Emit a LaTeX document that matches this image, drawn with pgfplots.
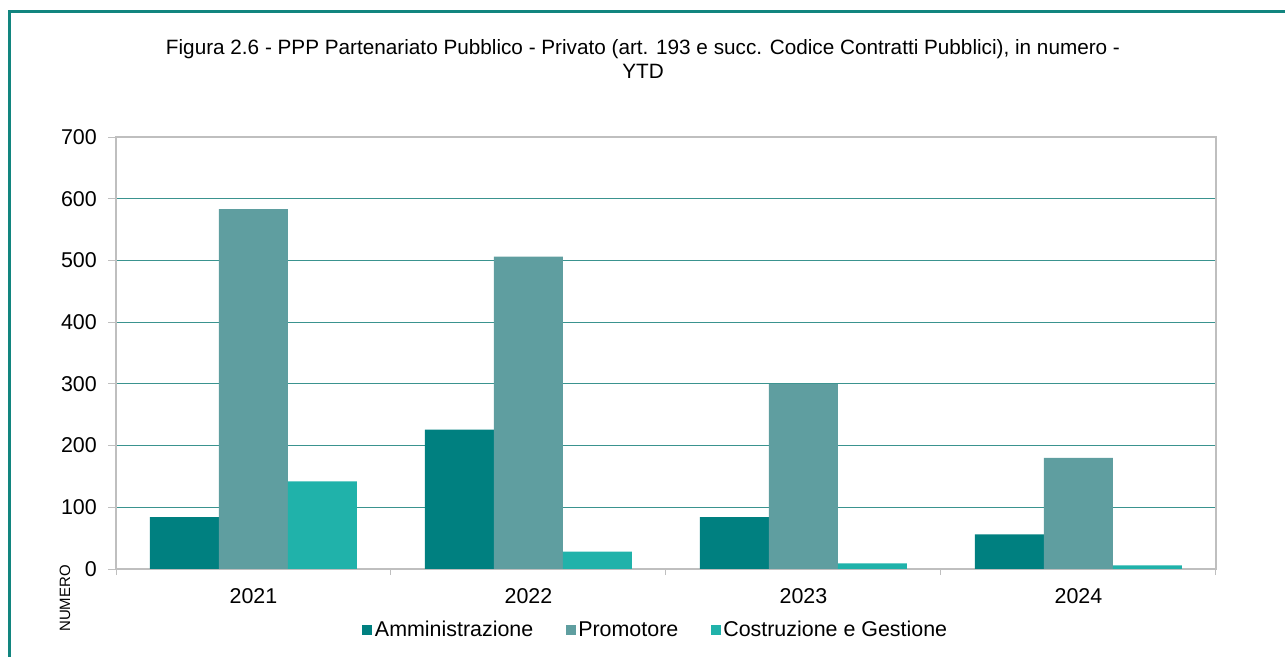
\documentclass[border=0pt]{standalone}
\usepackage{pgfplots}
\pgfplotsset{compat=1.18}
\usepackage{fontspec}
\setmainfont{Liberation Sans}

\definecolor{amm}{HTML}{008080}
\definecolor{prom}{HTML}{5F9EA0}
\definecolor{cost}{HTML}{20B2AA}
\definecolor{frame}{HTML}{12857F}
\definecolor{gridc}{HTML}{3A938F}
\definecolor{axgray}{HTML}{BFBFBF}

\begin{document}
\begin{tikzpicture}
\useasboundingbox (0bp,0bp) rectangle (1285bp,657bp);
% cornice verde (lato destro e basso fuori immagine)
\draw[frame, line width=3bp] (9bp,0bp) -- (9bp,645bp) -- (1290bp,645bp);
\node[align=center, font=\fontsize{20.8}{24}\selectfont, inner sep=0pt] at (643bp,598bp)
  {Figura 2.6 - PPP Partenariato Pubblico - Privato (art. 193 e succ. Codice Contratti Pubblici), in numero -\\YTD};
\node[rotate=90, anchor=east, font=\fontsize{15}{18}\selectfont, inner sep=0pt] at (65bp,92bp) {NUMERO};

\begin{axis}[
  at={(116bp,88bp)}, anchor=south west,
  width=1100bp, height=432bp, scale only axis,
  ybar=0pt, bar width=69bp,
  xmin=-0.5, xmax=3.5,
  ymin=0, ymax=700,
  ytick={0,100,...,700},
  xtick={0,1,2,3},
  xticklabels={2021,2022,2023,2024},
  minor xtick={-0.5,0.5,1.5,2.5,3.5},
  major x tick style={draw=none},
  minor x tick style={axgray, line width=1bp},
  y tick style={axgray, line width=1bp},
  tick align=outside,
  major tick length=8bp, minor tick length=6bp,
  xtick pos=bottom, ytick pos=left,
  axis line style={axgray, line width=1.2bp},
  ymajorgrids, grid style={gridc, line width=1bp},
  ticklabel style={font=\fontsize{21.5}{24}\selectfont},
  /pgf/number format/assume math mode=true,
  yticklabel style={inner sep=0pt, xshift=-11bp},
  xticklabel style={inner sep=0pt, yshift=-11bp},
  legend style={at={(0.491,-0.148)}, anchor=center, draw=none,
    legend columns=3, font=\fontsize{21.5}{24}\selectfont,
    nodes={inner sep=2.5bp, text height=1.5ex, text depth=0.3ex},
    /tikz/every even column/.append style={column sep=30bp}},
  legend image code/.code={\fill[#1] (0bp,-1bp) rectangle (10bp,9bp);},
]
\addplot[fill=amm, draw=none] coordinates {(0,84) (1,226) (2,84) (3,56)};
\addplot[fill=prom, draw=none] coordinates {(0,583) (1,506) (2,300) (3,180)};
\addplot[fill=cost, draw=none] coordinates {(0,142) (1,28) (2,9) (3,6)};
\legend{Amministrazione,Promotore,Costruzione e Gestione}
\end{axis}
\end{tikzpicture}
\end{document}
